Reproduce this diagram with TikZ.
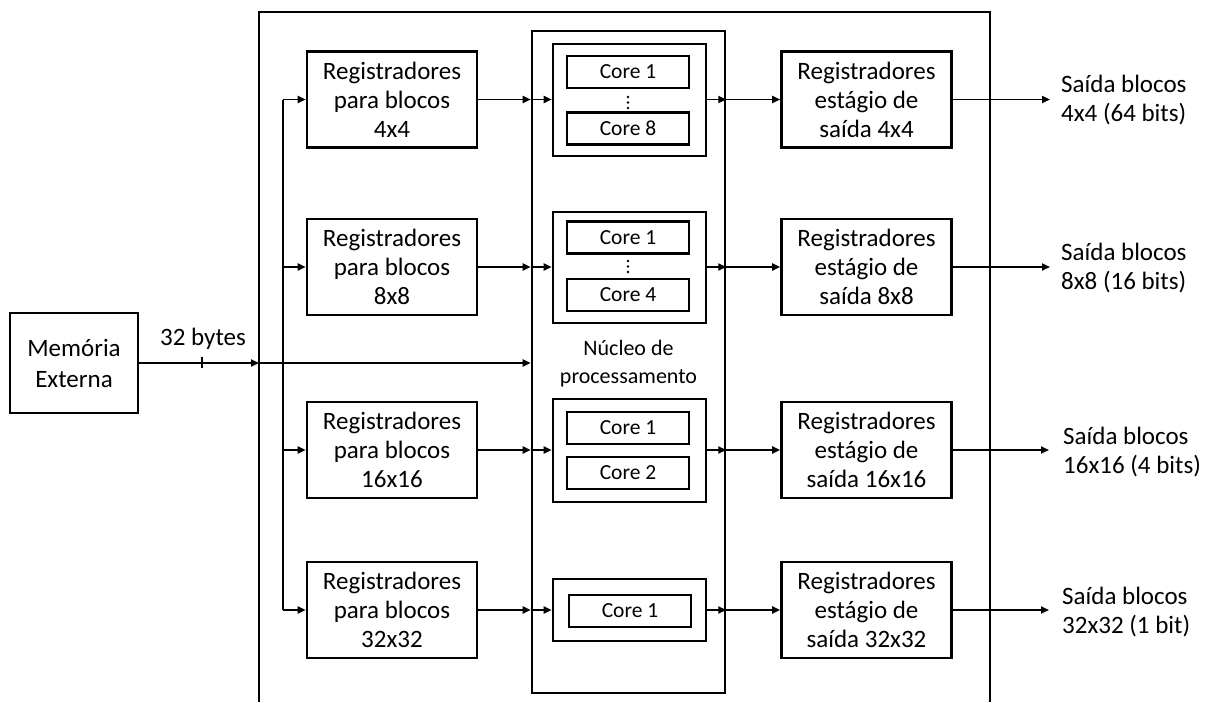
\documentclass[tikz,border=0pt]{standalone}
\usepackage{fontspec}
\setmainfont{Carlito}
\usetikzlibrary{arrows.meta}
\begin{document}
\begin{tikzpicture}[x=1pt,y=-1pt,
  box/.style={draw,line width=2.6pt,inner sep=0pt,align=center},
  regbox/.style={box,minimum width=170pt,minimum height=96pt,font=\fontsize{25}{29}\selectfont},
  grp/.style={box,minimum width=153pt},
  corebox/.style={box,minimum width=122pt,minimum height=32pt,font=\fontsize{21.5}{24}\selectfont},
  conn/.style={line width=1.8pt,-{Triangle[length=8pt,width=7pt]}},
  wire/.style={line width=1.8pt},
  frame/.style={line width=2.8pt},
  lbl/.style={font=\fontsize{25}{29}\selectfont,align=left,inner sep=0pt,anchor=west}]
\useasboundingbox (0,0) rectangle (1219,702);

% outer frame (open at the bottom)
\draw[frame] (259,702) -- (259,12) -- (990,12) -- (990,702);

% external memory
\node[box,minimum width=128pt,minimum height=100pt,font=\fontsize{25}{31}\selectfont] (mem) at (74,363) {Memória\\Externa};
\node[font=\fontsize{25}{29}\selectfont,inner sep=0pt] (bytes) at (203,339) {32 bytes};

% processing core
\node[box,minimum width=193pt,minimum height=662pt] (nuc) at (628.5,362) {};
\node[font=\fontsize{22}{28}\selectfont,align=center,inner sep=0pt] (nuct) at (628.5,364) {Núcleo de\\processamento};

% input registers
\node[regbox] (in1) at (392,99.5) {Registradores\\para blocos\\4x4};
\node[regbox] (in2) at (392,267) {Registradores\\para blocos\\8x8};
\node[regbox] (in3) at (392,450) {Registradores\\para blocos\\16x16};
\node[regbox] (in4) at (392,610) {Registradores\\para blocos\\32x32};

% core groups
\node[grp,minimum height=112pt] (g1) at (629.5,100) {};
\node[grp,minimum height=111pt] (g2) at (629.5,267.5) {};
\node[grp,minimum height=103pt] (g3) at (629.5,450.5) {};
\node[grp,minimum height=62pt] (g4) at (629.5,610) {};

\node[corebox] (c11) at (628,72) {Core 1};
\node[corebox] (c18) at (628,128.5) {Core 8};
\node[corebox] (c21) at (628,237.5) {Core 1};
\node[corebox] (c24) at (628,295) {Core 4};
\node[corebox] (c31) at (628,428) {Core 1};
\node[corebox] (c32) at (628,473) {Core 2};
\node[corebox] (c41) at (630,611) {Core 1};

\fill (628,97) circle (1.3pt) (628,102.5) circle (1.3pt) (628,108) circle (1.3pt);
\fill (628,261) circle (1.3pt) (628,266.5) circle (1.3pt) (628,272) circle (1.3pt);

% output registers
\node[regbox] (out1) at (866.5,99.5) {Registradores\\estágio de\\saída 4x4};
\node[regbox] (out2) at (866.5,267) {Registradores\\estágio de\\saída 8x8};
\node[regbox] (out3) at (866.5,450) {Registradores\\estágio de\\saída 16x16};
\node[regbox] (out4) at (866.5,610) {Registradores\\estágio de\\saída 32x32};

% output labels
\node[lbl] (s1) at (1061,100) {Saída blocos\\4x4 (64 bits)};
\node[lbl] (s2) at (1061,268) {Saída blocos\\8x8 (16 bits)};
\node[lbl] (s3) at (1063,452) {Saída blocos\\16x16 (4 bits)};
\node[lbl] (s4) at (1062,612) {Saída blocos\\32x32 (1 bit)};

% bus
\coordinate (fin) at (259,363);
\coordinate (b1) at (283,99.5);
\coordinate (b2) at (283,267);
\coordinate (b3) at (283,450);
\coordinate (b4) at (283,610);
\draw[wire] (b1) -- (b4);

% memory input
\draw[conn] (mem.east) -- (fin);
\draw[conn] (fin) -- (fin -| nuc.west);
\draw[line width=1.5pt] (202,357) -- (202,368);

% output end points
\coordinate (e1) at (1050,99.5);
\coordinate (e2) at (1050,267);
\coordinate (e3) at (1049,450);
\coordinate (e4) at (1049,610);

\foreach \i in {1,...,4}{
  \draw[conn] (b\i) -- (in\i.west);
  \draw[conn] (in\i.east) -- (in\i.east -| nuc.west);
  \draw[conn] (in\i.east -| nuc.west) -- (in\i.east -| g\i.west);
  \draw[conn] (in\i.east -| g\i.east) -- (in\i.east -| nuc.east);
  \draw[conn] (in\i.east -| nuc.east) -- (out\i.west);
  \draw[conn] (out\i.east) -- (e\i);
}
\end{tikzpicture}
\end{document}
